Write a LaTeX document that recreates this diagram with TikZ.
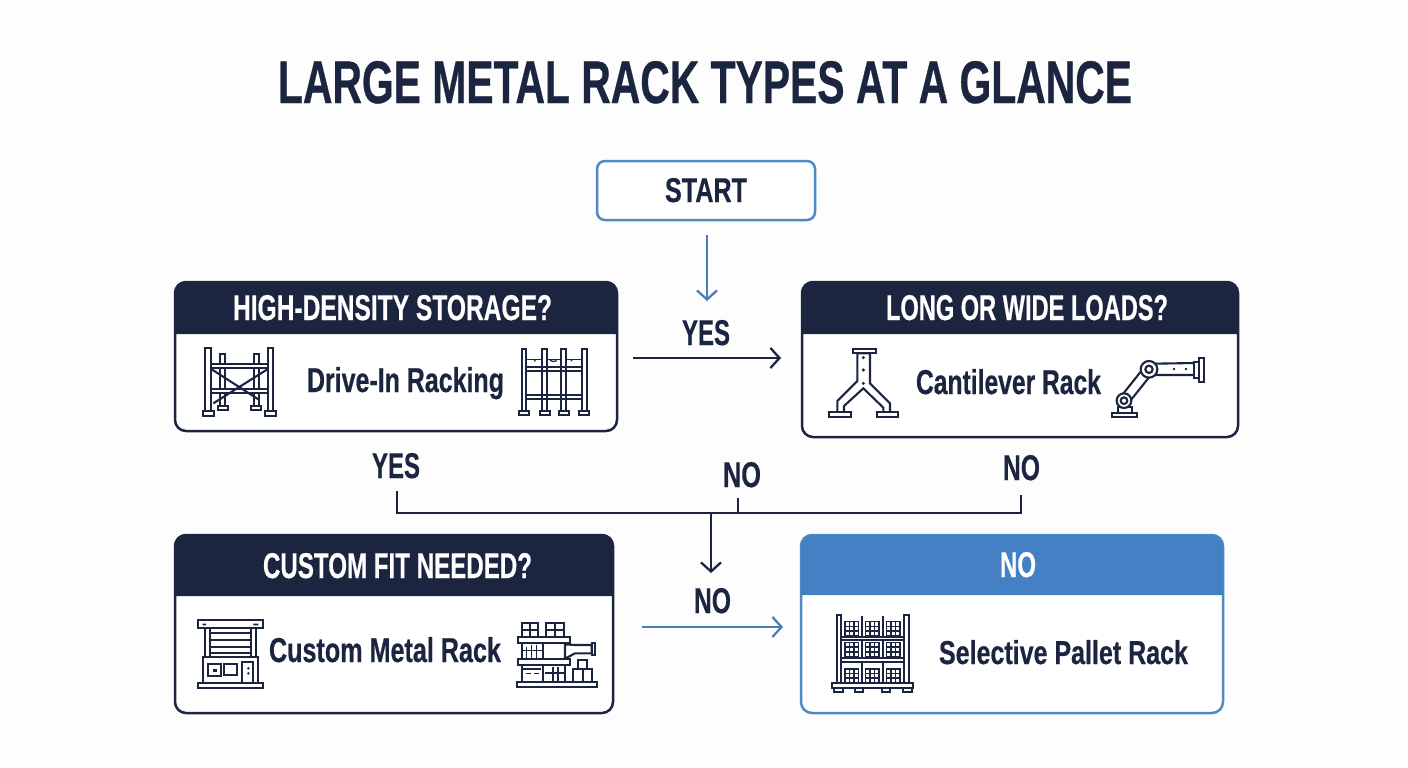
\documentclass[tikz,border=0pt]{standalone}
\usepackage{fontspec}
\usepackage{graphicx}
\setmainfont[BoldFeatures={FakeBold=0.6}]{Liberation Sans}
\usetikzlibrary{arrows.meta}
\definecolor{navy}{HTML}{1B2540}
\definecolor{hblue}{HTML}{4580C4}
\definecolor{bblue}{HTML}{4F8AC4}
\definecolor{ablue}{HTML}{4A7FB5}
\definecolor{bgc}{HTML}{FDFDFE}
\newcommand{\tfit}[3]{\resizebox{#1pt}{#2pt}{\fontsize{30}{30}\selectfont\bfseries #3}}
% header band: colour, left, right, top, bottom
\newcommand{\hdr}[5]{\fill[#1] (#2,#5) -- (#2,{#4+11}) .. controls (#2,{#4+5}) and ({#2+5},#4) .. ({#2+11},#4) -- ({#3-11},#4) .. controls ({#3-5},#4) and (#3,{#4+5}) .. (#3,{#4+11}) -- (#3,#5) -- cycle;}
\tikzset{
  txt/.style={anchor=base west,inner sep=0pt,outer sep=0pt,text=navy},
  wtxt/.style={txt,text=white},
  cardbox/.style={draw=navy,fill=white,line width=2.5pt,rounded corners=11pt,inner sep=0pt},
  bluebox/.style={cardbox,draw=bblue},
  startbox/.style={draw=bblue,fill=white,line width=2.5pt,rounded corners=8pt,inner sep=0pt},
  conn/.style={line width=2.3pt,draw=navy},
  arr/.style={conn,-{Straight Barb[length=9pt,width=20pt,line width=2.3pt]}},
  barr/.style={arr,draw=ablue},
  ic/.style={line width=2.1pt,draw=navy,line join=miter},
  icf/.style={ic,fill=white},
  thin/.style={line width=1.3pt,draw=navy},
  zm/.style 2 args={shift={(#1,#2)},x=.33333pt,y=-.33333pt},
}
\begin{document}
\begin{tikzpicture}[x=1pt,y=-1pt]
\useasboundingbox (0,0) rectangle (1408,768);
\fill[bgc] (0,0) rectangle (1408,768);

\node[txt] (title) at (278,103) {\tfit{854}{42}{LARGE METAL RACK TYPES AT A GLANCE}};

% START
\node[startbox,minimum width=218pt,minimum height=59pt] (start) at (706,190.5) {};
\node[txt] (starttext) at (665,202) {\tfit{82}{24}{START}};

% cards
\node[cardbox,minimum width=442pt,minimum height=149pt] (box1) at (396,356.5) {};
\hdr{navy}{175}{617}{282}{334}
\node[wtxt] (h1) at (233,320) {\tfit{319}{25}{HIGH-DENSITY STORAGE?}};
\node[txt] (t1) at (307,392) {\tfit{197}{25}{Drive-In Racking}};

\node[cardbox,minimum width=436pt,minimum height=155pt] (box2) at (1020,359.5) {};
\hdr{navy}{802}{1238}{282}{334}
\node[wtxt] (h2) at (886,320) {\tfit{282}{25}{LONG OR WIDE LOADS?}};
\node[txt] (t2) at (916,394) {\tfit{185}{25}{Cantilever Rack}};

\node[cardbox,minimum width=438pt,minimum height=178pt] (box3) at (394,624) {};
\hdr{navy}{175}{613}{535}{596}
\node[wtxt] (h3) at (263,578) {\tfit{269}{25}{CUSTOM FIT NEEDED?}};
\node[txt] (t3) at (269,662) {\tfit{232}{25}{Custom Metal Rack}};

\node[bluebox,minimum width=422pt,minimum height=178pt] (box4) at (1012,624) {};
\hdr{hblue}{801}{1223}{535}{595}
\node[wtxt] (h4) at (1000,577) {\tfit{36}{25}{NO}};
\node[txt] (t4) at (939,664) {\tfit{249}{24}{Selective Pallet Rack}};

% labels
\node[txt] (lyes1) at (682,345) {\tfit{48}{25}{YES}};
\node[txt] (lyes2) at (372,478) {\tfit{48}{25}{YES}};
\node[txt] (lno1) at (723,487) {\tfit{38}{25}{NO}};
\node[txt] (lno2) at (1003,480) {\tfit{37}{25}{NO}};
\node[txt] (lno3) at (694,613) {\tfit{37}{25}{NO}};

% connector ends
\coordinate (a0) at (707,235); \coordinate (a1) at (707,301);
\coordinate (b0) at (633,358); \coordinate (b1) at (781,358);
\coordinate (c0) at (397,491); \coordinate (c1) at (397,513);
\coordinate (d0) at (738,498); \coordinate (d1) at (738,513);
\coordinate (e0) at (1021,495); \coordinate (e1) at (1021,513);
\coordinate (f0) at (711,513); \coordinate (f1) at (711,573);
\coordinate (g0) at (642,627); \coordinate (g1) at (783,627);

\draw[barr] (a0) -- (a1);
\draw[arr] (b0) -- (b1);
\draw[conn] (c0) -- (c1) -- (e1) -- (e0);
\draw[conn] (d0) -- (d1);
\draw[arr] (f0) -- (f1);
\draw[barr] (g0) -- (g1);

% icon 1
\begin{scope}[zm={190}{340}]
  \foreach \a/\b in {91/105,191/206} \draw[icf] (\a,42) rectangle (\b,198);
  \draw[icf] (62,72) rectangle (234,85);
  \draw[icf] (62,148) rectangle (234,160);
  \draw[ic] (65,88) -- (205,178);
  \draw[ic] (232,88) -- (70,190);
  \foreach \a/\b in {46/62,234/250} \draw[icf] (\a,25) rectangle (\b,213);
  \foreach \a/\b in {38/72,224/258} \draw[icf] (\a,213) rectangle (\b,228);
  \foreach \a/\b in {83/113,183/213} \draw[icf] (\a,198) rectangle (\b,210);
\end{scope}

% icon 2
\begin{scope}[zm={510}{340}]
  \draw[thin] (48,58) -- (98,58) (110,58) -- (155,58) (167,58) -- (217,58);
  \draw[thin] (72,58) -- (76,64) (120,60) .. controls (130,66) .. (140,62) (182,58) -- (186,63);
  \draw[icf] (48,81) rectangle (217,93);
  \draw[icf] (48,164) rectangle (217,176);
  \foreach \a/\b in {36/49,97/111,154/168,216/230} \draw[ic] (\a,28) rectangle (\b,212);
  \foreach \a/\b in {27/58,90/120,146/177,207/238} \draw[icf] (\a,212) rectangle (\b,225);
\end{scope}

% icon 3
\begin{scope}[zm={820}{345}]
  \draw[icf] (112,25) -- (112,108) -- (52,168) -- (52,202) -- (72,202) -- (72,183) -- (130,130) -- (190,188) -- (190,202) -- (210,202) -- (210,175) -- (150,115) -- (150,25) -- cycle;
  \draw[icf] (98,11) rectangle (167,25);
  \draw[icf] (27,202) rectangle (93,217);
  \draw[icf] (170,202) rectangle (235,217);
  \foreach \b in {38,75,115} \fill[navy] (130,\b) circle (5);
\end{scope}

% icon 4
\begin{scope}[zm={1105}{345}]
  \draw[icf] (45,158) -- (120,64) -- (144,82) -- (69,176) -- cycle;
  \draw[icf] (150,56) -- (270,54) -- (270,90) -- (152,90) -- cycle;
  \draw[icf] (268,50) rectangle (282,100);
  \draw[icf] (282,38) rectangle (298,110);
  \draw[icf] (132,73) circle (25);
  \draw[ic] (132,73) circle (11);
  \draw[icf] (38,203) -- (38,185) -- (82,185) -- (82,203);
  \draw[icf] (57,167) circle (22);
  \draw[ic] (57,167) circle (10);
  \draw[icf] (22,203) rectangle (95,216);
  \foreach \a in {207,243} \fill[navy] (\a,72) circle (4);
\end{scope}

% icon 5
\begin{scope}[zm={190}{605}]
  \draw[icf] (25,45) rectangle (218,70);
  \fill[navy] (38,56) rectangle (48,61) (190,56) rectangle (205,61);
  \draw[ic] (45,70) rectangle (60,155);
  \draw[ic] (182,70) rectangle (197,155);
  \foreach \b in {85,105,125,145} \draw[ic] (62,\b) -- (180,\b);
  \draw[icf] (38,155) rectangle (205,235);
  \draw[ic] (55,178) rectangle (93,212);
  \fill[navy] (68,192) rectangle (82,200);
  \draw[ic] (103,178) rectangle (142,210);
  \draw[ic] (155,172) rectangle (190,235);
  \fill[navy] (175,190) circle (4) (175,205) circle (4);
  \draw[icf] (23,235) rectangle (220,250);
\end{scope}

% icon 6
\begin{scope}[zm={510}{610}]
  \foreach \a/\b in {35/85,108/163} {
    \draw[ic] (\a,38) rectangle (\b,82);
    \draw[ic] ({(\a+\b)/2},38) -- ({(\a+\b)/2},82) (\a,60) -- (\b,60);
  }
  \draw[ic] (35,100) rectangle (165,148);
  \draw[ic] (98,100) -- (98,148);
  \draw[thin] (35,122) -- (95,122) (65,105) -- (65,145) (80,105) -- (80,145) (50,110) -- (50,145);
  \draw[icf] (165,103) -- (195,105) -- (245,105) -- (245,130) -- (195,130) -- (165,146) -- cycle;
  \draw[icf] (245,100) rectangle (255,135);
  \draw[icf] (25,82) rectangle (180,100);
  \draw[icf] (25,148) rectangle (180,165);
  \draw[ic] (35,165) rectangle (165,215);
  \draw[ic] (98,165) -- (98,215);
  \draw[ic] (40,178) -- (92,178);
  \draw[thin,dash pattern=on 5pt off 2.5pt] (48,190) -- (88,190);
  \draw[ic] (105,190) -- (165,190) (130,170) -- (130,215) (145,170) -- (145,215);
  \draw[ic] (203,150) rectangle (232,178);
  \draw[icf] (190,178) rectangle (245,215);
  \draw[ic] (218,178) -- (218,215);
  \draw[icf] (22,215) rectangle (260,232);
\end{scope}

% icon 7
\begin{scope}[zm={820}{605}]
  \foreach \a in {125,190} \draw[ic] (\a,33) -- (\a,95);
  \foreach \a in {125,190} \draw[ic] (\a,105) -- (\a,160) (\a,172) -- (\a,235);
  \draw[ic] (63,95) rectangle (252,105);
  \draw[ic] (63,160) rectangle (252,170);
  \foreach \b/\c in {50/92,112/155,192/232} \foreach \a/\d in {75/115,137/177,200/240} {
    \draw[thin] (\a,\b) rectangle (\d,\c);
    \draw[thin] ({\a+(\d-\a)/3},\b) -- ({\a+(\d-\a)/3},\c) ({\a+2*(\d-\a)/3},\b) -- ({\a+2*(\d-\a)/3},\c)
      (\a,{\b+(\c-\b)/3}) -- (\d,{\b+(\c-\b)/3}) (\a,{\b+2*(\c-\b)/3}) -- (\d,{\b+2*(\c-\b)/3});
  }
  \draw[icf] (50,30) rectangle (63,235);
  \draw[icf] (252,30) rectangle (268,235);
  \draw[icf] (35,235) rectangle (280,248);
  \foreach \a/\d in {42/70,105/128,185/210,250/275} \draw[icf] (\a,248) rectangle (\d,260);
\end{scope}
\end{tikzpicture}
\end{document}
